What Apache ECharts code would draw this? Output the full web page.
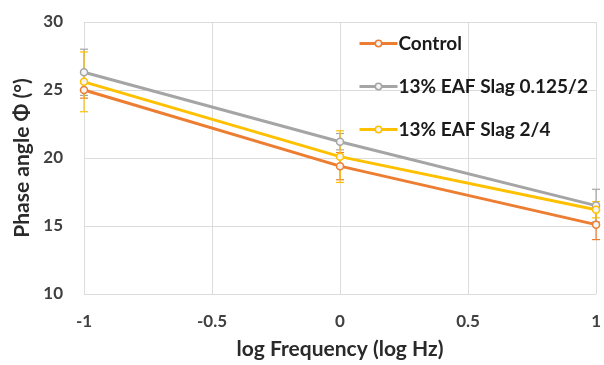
<!DOCTYPE html>
<html><head><meta charset="utf-8">
<script src="https://cdn.jsdelivr.net/npm/echarts@6/dist/echarts.min.js"></script>
<style>html,body{margin:0;padding:0;background:#fff}#c{width:604px;height:365px}</style>
</head><body><div id="c"></div>
<script>
const xValues = [-1, 0, 1];
const seriesNames = ['Control', '13% EAF Slag 0.125/2', '13% EAF Slag 2/4'];
const controlVals = [25.0, 19.4, 15.1];
const slag0125Vals = [26.3, 21.2, 16.5];
const slag24Vals = [25.6, 20.1, 16.2];
const controlErr = [0.6, 1.0, 1.1];
const slag0125Err = [1.7, 0.6, 1.2];
const slag24Err = [2.2, 1.9, 0.6];
const yTicks = [10, 15, 20, 25, 30];
const xTicks = [-1, -0.5, 0, 0.5, 1];

const colors = ['#ED7D31', '#A5A5A5', '#FFC000'];
const allVals = [controlVals, slag0125Vals, slag24Vals];
const allErr = [controlErr, slag0125Err, slag24Err];

const font = 'Lato, "Liberation Sans", sans-serif';
const chart = echarts.init(document.getElementById('c'), null, {renderer: 'canvas'});

const series = [];
allVals.forEach((vals, i) => {
  series.push({
    type: 'custom',
    name: seriesNames[i] + ' err',
    data: xValues.map((x, k) => [x, vals[k] - allErr[i][k], vals[k] + allErr[i][k]]),
    z: 1,
    renderItem: function (params, api) {
      const lo = api.coord([api.value(0), api.value(1)]);
      const hi = api.coord([api.value(0), api.value(2)]);
      const w = 4;
      const st = {stroke: colors[i], lineWidth: 1.2};
      return {type: 'group', children: [
        {type: 'line', shape: {x1: lo[0], y1: lo[1], x2: hi[0], y2: hi[1]}, style: st},
        {type: 'line', shape: {x1: lo[0]-w, y1: lo[1], x2: lo[0]+w, y2: lo[1]}, style: st},
        {type: 'line', shape: {x1: hi[0]-w, y1: hi[1], x2: hi[0]+w, y2: hi[1]}, style: st}
      ]};
    },
    silent: true
  });
});
allVals.forEach((vals, i) => {
  series.push({
    type: 'line',
    name: seriesNames[i],
    data: xValues.map((x, k) => [x, vals[k]]),
    symbol: 'circle',
    symbolSize: 7,
    showAllSymbol: true,
    z: 3,
    lineStyle: {color: colors[i], width: 3},
    itemStyle: {color: '#f4f4f4', borderColor: colors[i], borderWidth: 1.5}
  });
});

chart.setOption({
  animation: false,
  color: colors,
  grid: {left: 84, right: 6, top: 22, bottom: 70},
  legend: {
    data: seriesNames.map((n, i) => ({name: n,
      itemStyle: {color: '#f4f4f4', borderColor: colors[i], borderWidth: 1.5},
      lineStyle: {color: colors[i], width: 3}})),
    orient: 'vertical',
    left: 353, top: 29,
    itemGap: 24,
    itemWidth: 38, itemHeight: 8,
    textStyle: {fontFamily: font, fontWeight: 'bold', fontSize: 19, color: '#1a1a1a', padding: [0,0,0,-4]}
  },
  xAxis: {
    type: 'value', min: -1, max: 1, interval: 0.5,
    name: 'log Frequency (log Hz)', nameLocation: 'middle', nameGap: 45,
    nameTextStyle: {fontFamily: font, fontWeight: 'bold', fontSize: 21, color: '#2a2a2a'},
    axisLine: {show: false}, axisTick: {show: false},
    axisLabel: {fontFamily: font, fontWeight: 'bold', fontSize: 17, color: '#404040', margin: 19,
      formatter: v => String(v)},
    splitLine: {show: true, lineStyle: {color: '#dcdcdc', width: 1}}
  },
  yAxis: {
    type: 'value', min: 10, max: 30, interval: 5,
    name: 'Phase angle Φ (°)', nameLocation: 'middle', nameGap: 51, nameRotate: 90,
    nameTextStyle: {fontFamily: font, fontWeight: 'bold', fontSize: 21, color: '#2a2a2a'},
    axisLine: {show: false}, axisTick: {show: false},
    axisLabel: {fontFamily: font, fontWeight: 'bold', fontSize: 17, color: '#404040', margin: 21},
    splitLine: {show: true, lineStyle: {color: '#dcdcdc', width: 1}}
  },
  series: series
});
</script></body></html>
